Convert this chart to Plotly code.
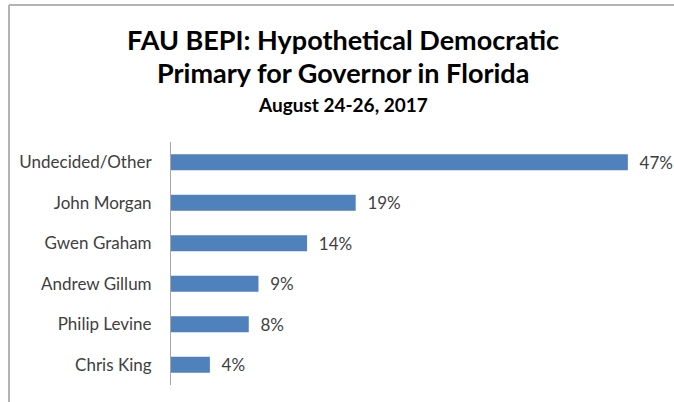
import plotly.graph_objects as go

# Poll results, top to bottom as shown
candidates = [
    "Undecided/Other",
    "John Morgan",
    "Gwen Graham",
    "Andrew Gillum",
    "Philip Levine",
    "Chris King",
]
shares = [47, 19, 14, 9, 8, 4]
share_labels = [f"  {v}%" for v in shares]

title_lines = [
    "FAU BEPI: Hypothetical Democratic",
    "Primary for Governor in Florida",
]
subtitle = "August 24-26, 2017"

BAR_COLOR = "#4F81BD"
FONT = "Lato, 'Open Sans', sans-serif"

W, H = 674, 402
L, R, T, B = 171, 34, 142, 17
plot_w = W - L - R
plot_h = H - T - B


def px_x(px):
    return (px - L) / plot_w


def px_y(py):
    return (H - B - py) / plot_h


fig = go.Figure(
    go.Bar(
        x=shares,
        y=candidates,
        orientation="h",
        marker=dict(color=BAR_COLOR, line=dict(width=0)),
        width=0.4,
        text=share_labels,
        textposition="outside",
        constraintext="none",
        textfont=dict(family=FONT, size=17, color="#404040"),
        cliponaxis=False,
    )
)

fig.update_layout(
    width=W,
    height=H,
    margin=dict(l=L, r=R, t=T, b=B),
    paper_bgcolor="white",
    plot_bgcolor="white",
    showlegend=False,
    font=dict(family=FONT, color="#404040"),
)

fig.update_xaxes(
    range=[0, plot_w / 9.72],
    showgrid=False,
    zeroline=False,
    showticklabels=False,
    showline=False,
)
fig.update_yaxes(
    categoryorder="array",
    categoryarray=candidates[::-1],
    showgrid=False,
    zeroline=False,
    showline=True,
    linecolor="#a6a6a6",
    linewidth=1,
    ticks="",
    ticklabelstandoff=15,
    tickfont=dict(family=FONT, size=17, color="#404040"),
)

# title block
for text, py, size in [
    (title_lines[0], 40, 27),
    (title_lines[1], 72, 27),
    (subtitle, 105, 19),
]:
    fig.add_annotation(
        text=f"<b>{text}</b>",
        xref="paper",
        yref="paper",
        x=px_x(343),
        y=px_y(py),
        xanchor="center",
        yanchor="middle",
        showarrow=False,
        font=dict(family=FONT, size=size, color="#000000"),
    )

# outer chart frame (top and left edges visible)
frame = dict(color="#b3b3b3", width=2)
fig.add_shape(type="line", xref="paper", yref="paper",
              x0=px_x(9), x1=px_x(9), y0=px_y(5), y1=px_y(H + 5), line=frame)
fig.add_shape(type="line", xref="paper", yref="paper",
              x0=px_x(9), x1=px_x(W + 5), y0=px_y(5), y1=px_y(5), line=frame)

fig.write_html(
    "out.html",
    config={"displayModeBar": False},
    post_script="document.body.style.margin='0';document.body.style.overflow='hidden';",
)
